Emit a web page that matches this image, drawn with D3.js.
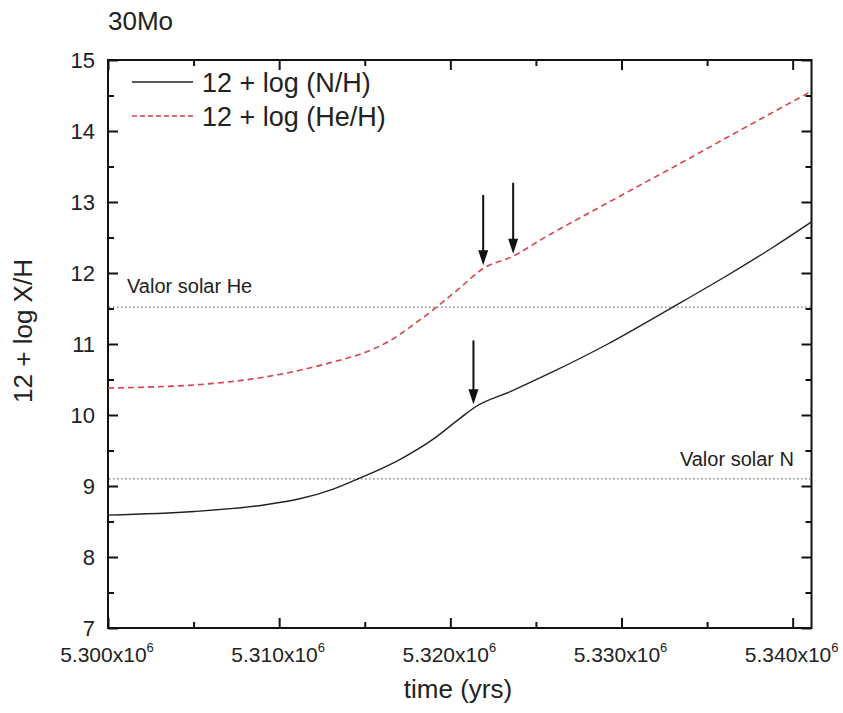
<!DOCTYPE html>
<html>
<head>
<meta charset="utf-8">
<script src="https://cdn.jsdelivr.net/npm/d3@7"></script>
<style>
  html, body { margin: 0; padding: 0; background: #fff; }
  svg { display: block; font-family: "Liberation Sans", Arial, sans-serif; }
</style>
</head>
<body>
<div id="chart"></div>
<script>
// ------------------------------------------------------------
//  data (time in yrs, 12 + log X/H)
// ------------------------------------------------------------
const timeN = [5.3000e6, 5.3050e6, 5.3093e6, 5.3112e6, 5.3132e6, 5.3147e6, 5.3171e6, 5.3190e6,
               5.3206e6, 5.3215e6, 5.3235e6, 5.3260e6, 5.3292e6, 5.3330e6, 5.3360e6, 5.3389e6, 5.3411e6];
const valN  = [8.59, 8.64, 8.74, 8.82, 8.96, 9.11, 9.38, 9.66,
               9.96, 10.12, 10.33, 10.61, 11.00, 11.52, 11.94, 12.37, 12.72];

const timeHe = [5.3000e6, 5.3054e6, 5.3093e6, 5.3112e6, 5.3132e6, 5.3150e6, 5.3165e6, 5.3180e6,
                5.3192e6, 5.3206e6, 5.3219e6, 5.3237e6, 5.3253e6, 5.3292e6, 5.3331e6, 5.3370e6, 5.3411e6];
const valHe  = [10.38, 10.43, 10.54, 10.63, 10.75, 10.88, 11.05, 11.30,
                11.52, 11.80, 12.06, 12.24, 12.47, 12.99, 13.50, 14.02, 14.56];

const solarLevels = [11.52, 9.10];
const solarLabels = ['Valor solar He', 'Valor solar N'];

// arrows: x position, top value, tip value
const arrowT    = [5.32192e6, 5.32367e6, 5.32135e6];
const arrowFrom = [13.10, 13.27, 11.05];
const arrowTo   = [12.11, 12.27, 10.15];

const xMajor = [5.300e6, 5.310e6, 5.320e6, 5.330e6, 5.340e6];
const yMajor = [7, 8, 9, 10, 11, 12, 13, 14, 15];

const seriesNames = ['12 + log (N/H)', '12 + log (He/H)'];

// ------------------------------------------------------------
const W = 843, H = 713;
const M = { left: 108, right: 843 - 811.5, top: 60, bottom: 713 - 628 };

const svg = d3.select('#chart').append('svg').attr('width', W).attr('height', H);

const x = d3.scaleLinear().domain([5.300e6, 5.3411e6]).range([M.left, W - M.right]);
const y = d3.scaleLinear().domain([7, 15]).range([H - M.bottom, M.top]);

const x0 = x.range()[0], x1 = x.range()[1], y0 = y.range()[0], y1 = y.range()[1];

// minor ticks
const xMinor = d3.range(5.305e6, 5.3411e6, 10000);
const yMinor = d3.range(7.5, 15, 1);

function tickGroup(axisFn, scale, values, size, tr) {
  const g = svg.append('g').attr('transform', tr)
    .call(axisFn(scale).tickValues(values).tickSize(size).tickFormat(''));
  g.select('.domain').remove();
  g.selectAll('.tick line').attr('stroke', '#111').attr('stroke-width', 2);
  return g;
}
// inward ticks on all four sides
tickGroup(d3.axisTop, x, xMajor, 10, `translate(0,${y0})`);
tickGroup(d3.axisTop, x, xMinor, 6, `translate(0,${y0})`);
tickGroup(d3.axisBottom, x, xMajor, 10, `translate(0,${y1})`);
tickGroup(d3.axisBottom, x, xMinor, 6, `translate(0,${y1})`);
tickGroup(d3.axisRight, y, yMajor, 10, `translate(${x0},0)`);
tickGroup(d3.axisRight, y, yMinor, 6, `translate(${x0},0)`);
tickGroup(d3.axisLeft, y, yMajor, 10, `translate(${x1},0)`);
tickGroup(d3.axisLeft, y, yMinor, 6, `translate(${x1},0)`);

// frame
svg.append('rect')
  .attr('x', x0).attr('y', y1).attr('width', x1 - x0).attr('height', y0 - y1)
  .attr('fill', 'none').attr('stroke', '#111').attr('stroke-width', 2);

// tick labels
const xl = svg.append('g').attr('font-size', 21).attr('fill', '#222');
xMajor.forEach(v => {
  const t = xl.append('text').attr('x', x(v) - 1).attr('y', 662).attr('text-anchor', 'middle');
  t.append('tspan').text(d3.format('.3f')(v / 1e6) + 'x10');
  t.append('tspan').attr('font-size', 13).attr('dy', -10).text('6');
});
svg.append('g').attr('font-size', 22).attr('fill', '#222')
  .selectAll('text').data(yMajor).join('text')
  .attr('x', 95).attr('y', d => y(d)).attr('dy', '0.36em')
  .attr('text-anchor', 'end').text(d => d);

// solar reference lines
solarLevels.forEach(v => {
  svg.append('line')
    .attr('x1', x0 + 1).attr('x2', x1 - 1).attr('y1', y(v)).attr('y2', y(v))
    .attr('stroke', '#777').attr('stroke-width', 1.2).attr('stroke-dasharray', '1.5,2.5');
});
svg.append('text').attr('x', 127).attr('y', 293).attr('font-size', 20).attr('fill', '#222')
  .text(solarLabels[0]);
svg.append('text').attr('x', 794).attr('y', 466).attr('font-size', 20).attr('fill', '#222')
  .attr('text-anchor', 'end').text(solarLabels[1]);

// curves
const line = d3.line().x(d => x(d[0])).y(d => y(d[1])).curve(d3.curveMonotoneX);
const ptsN = d3.zip(timeN, valN);
const ptsHe = d3.zip(timeHe, valHe);

svg.append('path').datum(ptsN).attr('d', line)
  .attr('fill', 'none').attr('stroke', '#222').attr('stroke-width', 1.4);
svg.append('path').datum(ptsHe).attr('d', line)
  .attr('fill', 'none').attr('stroke', '#d9434a').attr('stroke-width', 1.6)
  .attr('stroke-dasharray', '6,4');

// arrows
arrowT.forEach((t, i) => {
  const ax = x(t), ya = y(arrowFrom[i]), yb = y(arrowTo[i]);
  svg.append('line').attr('x1', ax).attr('x2', ax).attr('y1', ya).attr('y2', yb - 12)
    .attr('stroke', '#111').attr('stroke-width', 2);
  svg.append('path')
    .attr('d', `M${ax - 5},${yb - 15}L${ax + 5},${yb - 15}L${ax},${yb}Z`)
    .attr('fill', '#111');
});

// legend
const leg = svg.append('g');
[[82, '#222', null, 1.4], [116, '#d9434a', '5,3', 1.4]].forEach((s, i) => {
  leg.append('line').attr('x1', 132).attr('x2', 193).attr('y1', s[0]).attr('y2', s[0])
    .attr('stroke', s[1]).attr('stroke-width', s[3]).attr('stroke-dasharray', s[2]);
  leg.append('text').attr('x', 202).attr('y', s[0] + 9.5).attr('font-size', 27).attr('fill', '#222')
    .text(seriesNames[i]);
});

// titles
svg.append('text').attr('x', 108).attr('y', 30).attr('font-size', 26).attr('fill', '#222').text('30Mo');
svg.append('text').attr('x', 458).attr('y', 698).attr('font-size', 26).attr('fill', '#222')
  .attr('text-anchor', 'middle').text('time (yrs)');
svg.append('text').attr('transform', 'translate(32,331) rotate(-90)')
  .attr('font-size', 26).attr('fill', '#222').attr('text-anchor', 'middle').text('12 + log X/H');
</script>
</body>
</html>
